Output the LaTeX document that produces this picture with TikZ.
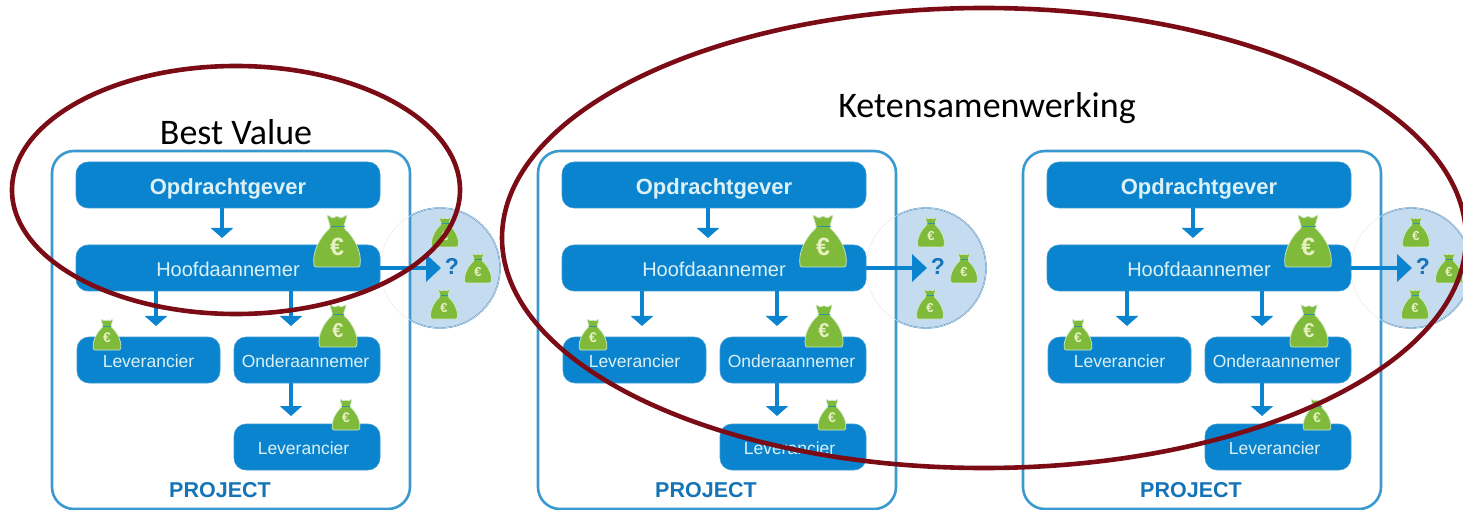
\documentclass[tikz,border=0pt]{standalone}
\usepackage{fontspec}
\setmainfont{Liberation Sans}
\newfontfamily\calibrilike{Carlito}
\usetikzlibrary{arrows.meta,calc}
\definecolor{boxblue}{HTML}{0A84CE}
\definecolor{framecol}{HTML}{3A9AD0}
\definecolor{circfill}{HTML}{C5DCF0}
\definecolor{circline}{HTML}{4F90C4}
\definecolor{bagcol}{HTML}{7FBA3A}
\definecolor{bagedge}{HTML}{CFE9C8}
\definecolor{euro}{HTML}{E6F0C0}
\definecolor{ringred}{HTML}{7B0C16}
\definecolor{labeltxt}{HTML}{DCF1F6}
\definecolor{projtxt}{HTML}{1574B8}
\tikzset{
  panelframe/.style={draw=framecol,line width=2.6pt,fill=white,rounded corners=22pt},
  boxbase/.style={fill=boxblue,draw=framecol,line width=.6pt,rounded corners=12pt,inner sep=0pt,text=labeltxt,font=\fontsize{17.5}{17.5}\selectfont},
  wide/.style={boxbase,minimum width=304pt,minimum height=46pt},
  smallbox/.style={boxbase,minimum width=146pt,minimum height=46pt},
  flow/.style={draw=boxblue,line width=3.4pt,-{Triangle[width=22pt,length=10pt]}},
  bigflow/.style={draw=boxblue,line width=4pt,-{Triangle[width=27pt,length=15pt]}},
  ring/.style={draw=ringred,line width=4.6pt},
  ringlabel/.style={inner sep=0pt,text=black,font=\calibrilike\fontsize{36}{36}\selectfont},
}
\newcommand\lowered[1]{\smash{\raisebox{-.42em}{#1}}}
% centre-bottom x, y, size (height of the bag in px), euro font size
\newcommand\moneybag[4]{%
  \begin{scope}[shift={(#1,#2)},x=#3pt,y=-#3pt]
    \fill[bagcol,draw=bagedge,line width=.7pt,rounded corners=1.2pt]
      (-.42,0) .. controls (-.47,-.27) and (-.32,-.55) .. (-.12,-.73)
      -- (-.19,-.97) -- (-.07,-.90) -- (0,-.95) -- (.07,-.90) -- (.19,-.97) -- (.12,-.73)
      .. controls (.32,-.55) and (.47,-.27) .. (.42,0) -- cycle;
    \draw[boxblue!70!bagcol,line width=.9pt] (-.11,-.75) -- (.14,-.75);
    \node[inner sep=0pt,text=euro,font=\bfseries\fontsize{#4}{#4}\selectfont] (bag#1x#2) at (0,-.37) {€};
  \end{scope}}
\begin{document}
\begin{tikzpicture}[x=1pt,y=-1pt]
\useasboundingbox (0,0) rectangle (1463,510);
\clip (0,0) rectangle (1463,510);
\fill[white] (0,0) rectangle (1463,510);
\foreach \i/\dx in {1/0,2/486,3/971}{
  \begin{scope}[shift={(\dx,0)}]
    \draw[draw=circline,line width=1.4pt,fill=circfill] (440,268) circle [radius=60];
    \draw[panelframe] (52,151) rectangle (410,509);
    \draw[black!8,line width=.5pt] (440,268) circle [radius=60];
    \node[wide,font=\bfseries\fontsize{22}{22}\selectfont] (opd\i) at (228,185) {\lowered{Opdrachtgever}};
    \node[wide,font=\fontsize{20}{20}\selectfont] (hfd\i) at (228,268) {\lowered{Hoofdaannemer}};
    \node[smallbox,minimum width=143pt] (lev\i) at (148.5,360) {\lowered{Leverancier}};
    \node[smallbox] (ond\i) at (307,360) {\lowered{Onderaannemer\kern3pt}};
    \node[smallbox] (lvb\i) at (307,447) {\lowered{Leverancier\kern7pt}};
    \node[inner sep=0pt,text=projtxt,font=\bfseries\fontsize{21.5}{21.5}\selectfont] (prj\i) at (220,490) {PROJECT};
    \node[inner sep=0pt,text=projtxt,font=\bfseries\fontsize{23}{23}\selectfont] (qst\i) at (452,266) {?};
    \coordinate (c1\i) at (222,238);
    \coordinate (c2\i) at (156,326);
    \coordinate (c3\i) at (291,326);
    \coordinate (c4\i) at (291,416);
    \coordinate (c5\i) at (441,268);
    \draw[flow] (opd\i.south -| c1\i) -- (c1\i);
    \draw[flow] (hfd\i.south -| c2\i) -- (c2\i);
    \draw[flow] (hfd\i.south -| c3\i) -- (c3\i);
    \draw[flow] (ond\i.south -| c4\i) -- (c4\i);
    \draw[bigflow] (hfd\i.east) -- (c5\i);
    \moneybag{337}{267}{54}{25}
    \moneybag{338}{347}{44}{20}
    \moneybag{107}{350}{32}{14}
    \moneybag{346}{430}{32}{14}
    \moneybag{445}{247}{31}{13}
    \moneybag{478}{283}{31}{13}
    \moneybag{444}{319}{31}{13}
  \end{scope}
}
\draw[ring] (236,190) ellipse [x radius=224,y radius=124];
\draw[ring] (984,238) ellipse [x radius=482,y radius=230];
\node[ringlabel] (bv) at (236,132) {Best Value};
\node[ringlabel] (ks) at (987,107) {\smash{\raisebox{-.3em}{Ketensamenwerking}}};
\end{tikzpicture}
\end{document}
